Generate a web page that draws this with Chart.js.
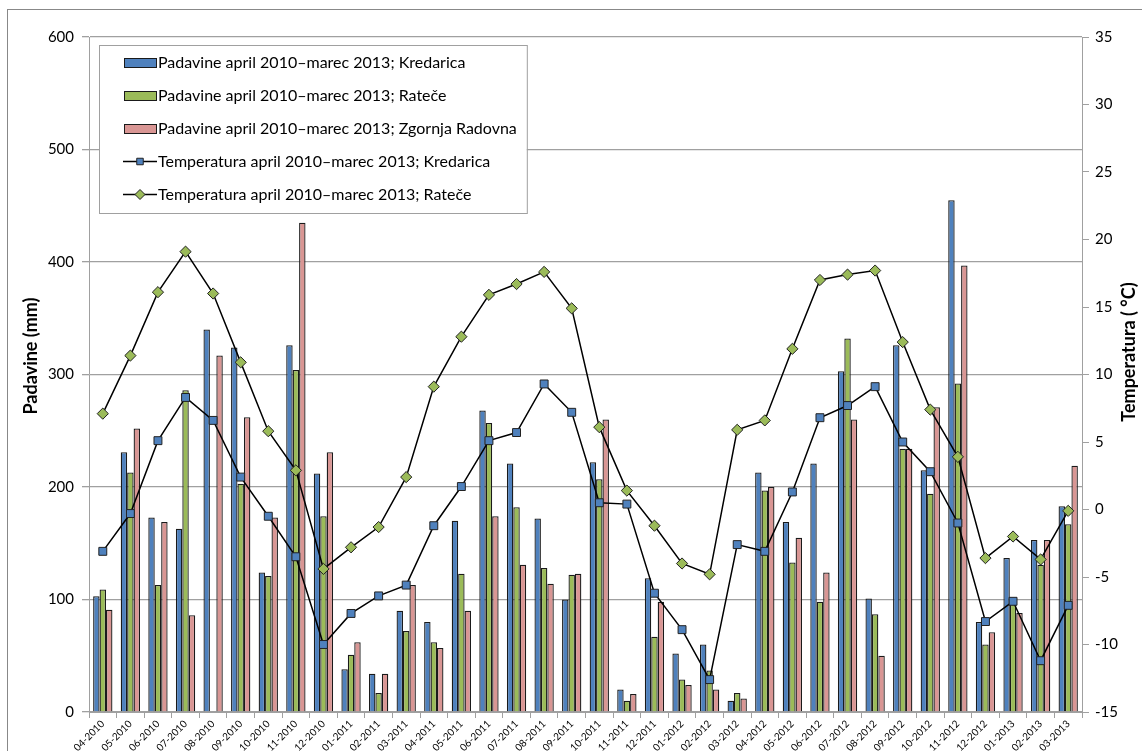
<!DOCTYPE html>
<html>
<head>
<meta charset="utf-8">
<script src="https://cdn.jsdelivr.net/npm/chart.js@4/dist/chart.umd.min.js"></script>
<style>
    html, body { margin: 0; padding: 0; background: #fff; }
    #wrap { width: 1142px; height: 751px; position: relative; }
</style>
</head>
<body>
<div id="wrap"><canvas id="rainChart"></canvas></div>
<script>
// months april 2010 - march 2013
const months = [
    '04-2010', '05-2010', '06-2010', '07-2010', '08-2010', '09-2010', '10-2010', '11-2010', '12-2010',
    '01-2011', '02-2011', '03-2011', '04-2011', '05-2011', '06-2011', '07-2011', '08-2011', '09-2011',
    '10-2011', '11-2011', '12-2011', '01-2012', '02-2012', '03-2012', '04-2012', '05-2012', '06-2012',
    '07-2012', '08-2012', '09-2012', '10-2012', '11-2012', '12-2012', '01-2013', '02-2013', '03-2013'
];

// precipitation (mm)
const rainKredarica = [
    103, 231, 173, 163, 340, 324, 124, 326, 212,
    38, 34, 90, 80, 170, 268, 221, 172, 100,
    222, 20, 119, 52, 60, 10, 213, 169, 221,
    303, 101, 326, 215, 455, 80, 137, 153, 183
];
const rainRatece = [
    109, 213, 113, 286, null, 203, 121, 304, 174,
    51, 17, 72, 62, 123, 257, 182, 128, 122,
    207, 10, 67, 29, 37, 17, 197, 133, 98,
    332, 87, 234, 194, 292, 60, 100, 131, 167
];
const rainRadovna = [
    91, 252, 169, 86, 317, 262, 173, 435, 231,
    62, 34, 113, 57, 90, 174, 131, 114, 123,
    260, 16, 98, 24, 20, 12, 200, 155, 124,
    260, 50, 234, 271, 397, 71, 88, 153, 219
];

// temperature (°C)
const tempKredarica = [
    -3.1, -0.3, 5.1, 8.3, 6.6, 2.4, -0.5, -3.5, -10.0,
    -7.7, -6.4, -5.6, -1.2, 1.7, 5.1, 5.7, 9.3, 7.2,
    0.5, 0.4, -6.2, -8.9, -12.6, -2.6, -3.1, 1.3, 6.8,
    7.7, 9.1, 5.0, 2.8, -1.0, -8.3, -6.8, -11.2, -7.1
];
const tempRatece = [
    7.1, 11.4, 16.1, 19.1, 16.0, 10.9, 5.8, 2.9, -4.4,
    -2.8, -1.3, 2.4, 9.1, 12.8, 15.9, 16.7, 17.6, 14.9,
    6.1, 1.4, -1.2, -4.0, -4.8, 5.9, 6.6, 11.9, 17.0,
    17.4, 17.7, 12.4, 7.4, 3.9, -3.6, -2.0, -3.7, -0.1
];

const leftTitle = 'Padavine (mm)';
const rightTitle = 'Temperatura ( °C)';

const FONT = 'Lato, "Liberation Sans", sans-serif';
const GRID = 'rgb(160,160,160)';

function barSet(label, data, colour) {
    return {
        type: 'bar',
        label: label,
        data: data,
        yAxisID: 'y',
        backgroundColor: colour,
        borderColor: '#1a1a1a',
        borderWidth: 1.3,
        categoryPercentage: 0.7,
        barPercentage: 1.0,
        order: 2
    };
}

function lineSet(label, data, colour, style, radius) {
    return {
        type: 'line',
        label: label,
        data: data,
        yAxisID: 'y1',
        borderColor: '#000',
        borderWidth: 1.5,
        tension: 0,
        pointStyle: style,
        pointRadius: radius,
        pointBackgroundColor: colour,
        pointBorderColor: '#222',
        pointBorderWidth: 1,
        order: 1
    };
}

// white background, outer frame, axis titles and the legend box inside the plot
const frameAndLegend = {
    id: 'frameAndLegend',
    beforeDraw(chart) {
        const ctx = chart.ctx;
        ctx.save();
        ctx.fillStyle = '#fff';
        ctx.fillRect(0, 0, chart.width, chart.height);
        ctx.strokeStyle = '#888';
        ctx.lineWidth = 1;
        ctx.strokeRect(7.5, 9.5, chart.width + 10, chart.height + 10);

        // axis titles, rotated
        ctx.fillStyle = '#000';
        ctx.font = 'bold 18px ' + FONT;
        ctx.textAlign = 'center';
        ctx.textBaseline = 'middle';
        ctx.translate(31, 356);
        ctx.rotate(-Math.PI / 2);
        ctx.fillText(leftTitle, 0, 0);
        ctx.setTransform(1, 0, 0, 1, 0, 0);
        ctx.translate(1129, 352);
        ctx.rotate(-Math.PI / 2);
        ctx.fillText(rightTitle, 0, 0);
        ctx.restore();
    },
    afterDraw(chart) {
        const ctx = chart.ctx;
        const sets = chart.data.datasets;
        ctx.save();
        ctx.font = '16px ' + FONT;
        let maxW = 0;
        sets.forEach(ds => { maxW = Math.max(maxW, ctx.measureText(ds.label).width); });

        const left = 99, top = 45, rowH = 33;
        const width = 158 - left + maxW + 10;
        const height = 168;
        ctx.fillStyle = '#fff';
        ctx.fillRect(left, top, width, height);
        ctx.strokeStyle = GRID;
        ctx.lineWidth = 1;
        ctx.strokeRect(left + 0.5, top + 0.5, width, height);

        sets.forEach((ds, i) => {
            const cy = top + 17 + i * rowH;
            if (ds.type === 'bar') {
                ctx.fillStyle = ds.backgroundColor;
                ctx.fillRect(124, cy - 4, 32, 9);
                ctx.strokeStyle = '#1a1a1a';
                ctx.strokeRect(124.5, cy - 3.5, 32, 9);
            } else {
                ctx.strokeStyle = '#000';
                ctx.lineWidth = 1.5;
                ctx.beginPath();
                ctx.moveTo(123, cy + 0.5);
                ctx.lineTo(157, cy + 0.5);
                ctx.stroke();
                ctx.lineWidth = 1;
                ctx.fillStyle = ds.pointBackgroundColor;
                ctx.strokeStyle = '#222';
                Chart.helpers.drawPoint(ctx, {
                    pointStyle: ds.pointStyle,
                    radius: ds.pointStyle === 'rect' ? 4.6 : 5,
                    borderWidth: 1
                }, 140, cy + 0.5);
            }
            ctx.fillStyle = '#000';
            ctx.textBaseline = 'middle';
            ctx.textAlign = 'left';
            ctx.fillText(ds.label, 158, cy + 1);
        });
        ctx.restore();
    }
};

new Chart(document.getElementById('rainChart').getContext('2d'), {
    data: {
        labels: months,
        datasets: [
            barSet('Padavine april 2010–marec 2013; Kredarica', rainKredarica, '#4F81BD'),
            barSet('Padavine april 2010–marec 2013; Rateče', rainRatece, '#9BBB59'),
            barSet('Padavine april 2010–marec 2013; Zgornja Radovna', rainRadovna, '#D99694'),
            lineSet('Temperatura april 2010–marec 2013; Kredarica', tempKredarica, '#4F81BD', 'rect', 5.6),
            lineSet('Temperatura april 2010–marec 2013; Rateče', tempRatece, '#9BBB59', 'rectRot', 5.6)
        ]
    },
    options: {
        responsive: true,
        maintainAspectRatio: false,
        animation: false,
        layout: {
            padding: { top: 37, left: 0, right: 0, bottom: 0 }
        },
        scales: {
            x: {
                offset: true,
                grid: {
                    display: true,
                    offset: true,
                    drawOnChartArea: false,
                    tickLength: 6,
                    color: GRID
                },
                border: { color: GRID },
                ticks: {
                    autoSkip: false,
                    minRotation: 45,
                    maxRotation: 45,
                    padding: 0,
                    color: '#000',
                    font: { family: FONT, size: 10 }
                },
                afterFit: s => { s.height = 39; }
            },
            y: {
                position: 'left',
                min: 0,
                max: 600,
                ticks: {
                    stepSize: 100,
                    padding: 8,
                    color: '#000',
                    font: { family: FONT, size: 15 }
                },
                grid: {
                    color: GRID,
                    lineWidth: 1.3,
                    tickLength: 7
                },
                border: { color: GRID },
                afterFit: s => { s.width = 89; }
            },
            y1: {
                position: 'right',
                min: -15,
                max: 35,
                ticks: {
                    stepSize: 5,
                    padding: 6,
                    color: '#000',
                    font: { family: FONT, size: 15 }
                },
                grid: {
                    drawOnChartArea: false,
                    color: GRID,
                    tickLength: 7
                },
                border: { color: GRID },
                afterFit: s => { s.width = 60; }
            }
        },
        plugins: {
            legend: { display: false },
            title: { display: false },
            tooltip: { enabled: false }
        }
    },
    plugins: [frameAndLegend]
});
</script>
</body>
</html>
